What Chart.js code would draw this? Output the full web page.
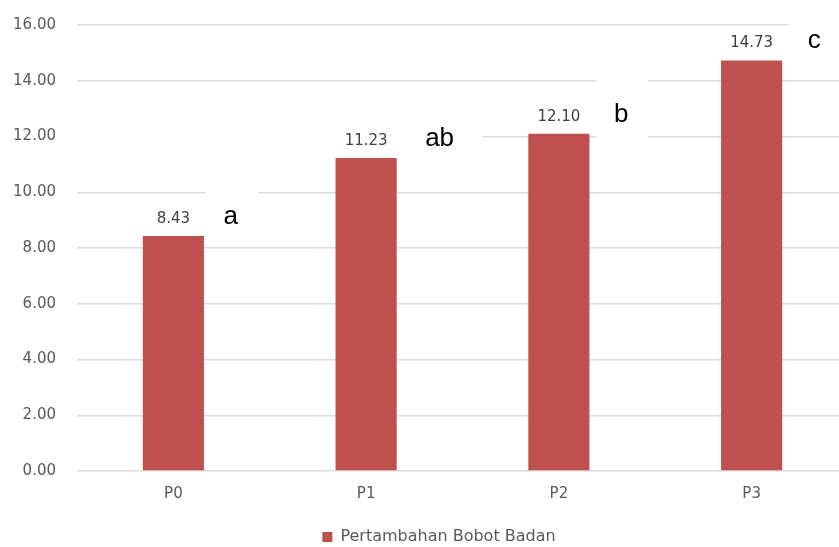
<!DOCTYPE html>
<html>
<head>
<meta charset="utf-8">
<script src="https://cdn.jsdelivr.net/npm/chart.js@4/dist/chart.umd.min.js"></script>
<style>
  html, body { margin: 0; padding: 0; background: #fff; overflow: hidden; }
  #frame { width: 839px; height: 547px; overflow: hidden; position: relative; }
  #holder { position: absolute; left: 0; top: 0; width: 848px; height: 547px; }
</style>
</head>
<body>
<div id="frame"><div id="holder"><canvas id="chart"></canvas></div></div>
<script>
// Body weight gain per treatment group
const categories = ['P0', 'P1', 'P2', 'P3'];
const weightGain = [8.43, 11.23, 12.10, 14.73];
const notations = ['a', 'ab', 'b', 'c'];
const seriesLabel = 'Pertambahan Bobot Badan';

const BAR_COLOR = '#C0504D';
const GRID_COLOR = '#dcdcdc';
const TEXT_GRAY = '#595959';

// White text boxes behind the significance letters (offsets from each bar's top-centre)
const noteBoxes = [
  [32, -50, 85, -5],
  [-292, -30, 117, -10],
  [37, -58, 89, 8],
  [37, -40, 130, 10]
];
const noteDx = [50, 59, 55, 56];

const barNotes = {
  id: 'barNotes',
  afterLayout(chart) {
    // nudge the legend a little right of the canvas centre
    const lg = chart.legend;
    if (lg) { lg.left += 15; lg.right += 15; }
  },
  beforeDatasetsDraw(chart) {
    const ctx = chart.ctx;
    const bars = chart.getDatasetMeta(0).data;
    ctx.save();
    ctx.fillStyle = '#ffffff';
    bars.forEach((bar, i) => {
      const b = noteBoxes[i];
      ctx.fillRect(bar.x + b[0], bar.y + b[1], b[2] - b[0], b[3] - b[1]);
    });
    ctx.restore();
  },
  afterDatasetsDraw(chart) {
    const ctx = chart.ctx;
    const bars = chart.getDatasetMeta(0).data;
    ctx.save();
    ctx.textBaseline = 'alphabetic';
    bars.forEach((bar, i) => {
      ctx.font = '15px "DejaVu Sans"';
      ctx.fillStyle = '#404040';
      ctx.textAlign = 'center';
      ctx.fillText(weightGain[i].toFixed(2), bar.x, bar.y - 13);
      ctx.font = '26px "Liberation Sans"';
      ctx.fillStyle = '#000000';
      ctx.textAlign = 'left';
      ctx.fillText(notations[i], bar.x + noteDx[i], bar.y - 12);
    });
    ctx.restore();
  }
};

new Chart(document.getElementById('chart'), {
  type: 'bar',
  data: {
    labels: categories,
    datasets: [{
      label: seriesLabel,
      data: weightGain,
      backgroundColor: BAR_COLOR,
      borderWidth: 0,
      barPercentage: 0.317,
      categoryPercentage: 1.0
    }]
  },
  options: {
    responsive: true,
    maintainAspectRatio: false,
    devicePixelRatio: 1,
    animation: false,
    layout: { padding: { top: 25, bottom: -8, left: 0, right: 0 } },
    plugins: {
      tooltip: { enabled: false },
      legend: {
        position: 'bottom',
        labels: {
          boxWidth: 10,
          boxHeight: 10,
          padding: 12,
          color: TEXT_GRAY,
          font: { family: 'DejaVu Sans', size: 16 }
        }
      }
    },
    scales: {
      x: {
        grid: { display: false, drawTicks: false },
        border: { display: false },
        ticks: {
          padding: 14,
          color: TEXT_GRAY,
          font: { family: 'DejaVu Sans', size: 15 }
        }
      },
      y: {
        min: 0,
        max: 16,
        afterFit(scale) { scale.width = 77; },
        grid: { color: GRID_COLOR, lineWidth: 1.5, drawTicks: true, tickLength: 18, tickColor: 'rgba(0,0,0,0)' },
        border: { display: false },
        ticks: {
          stepSize: 2,
          padding: 3,
          color: TEXT_GRAY,
          font: { family: 'DejaVu Sans', size: 15 },
          callback: v => v.toFixed(2)
        }
      }
    }
  },
  plugins: [barNotes]
});
</script>
</body>
</html>
